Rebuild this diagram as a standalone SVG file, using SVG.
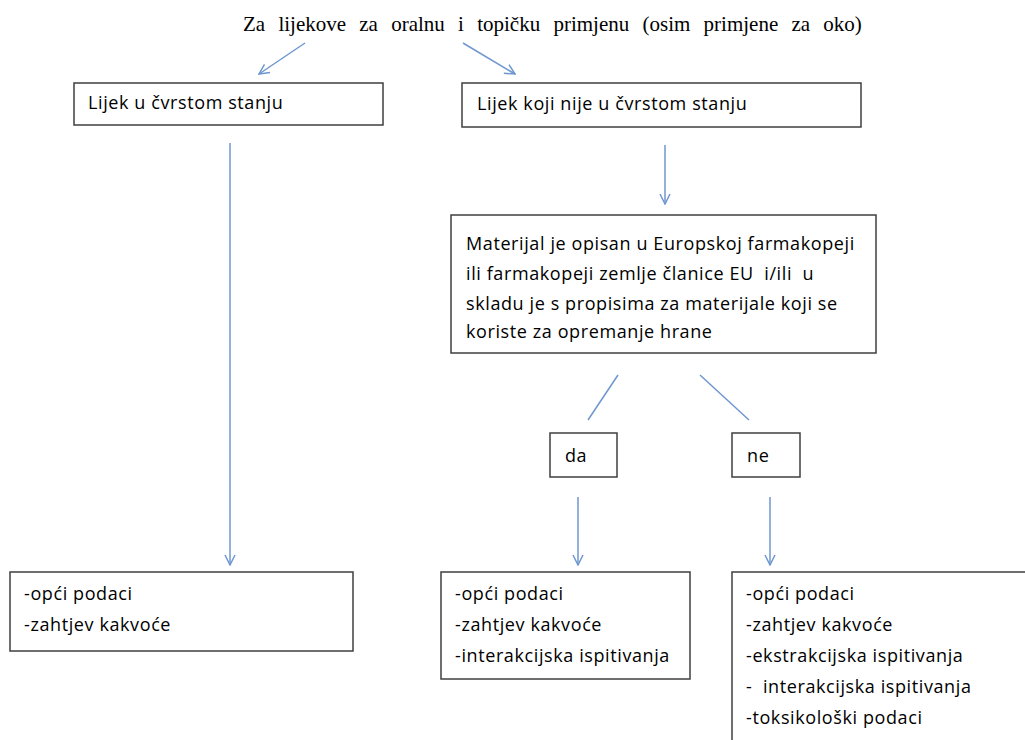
<svg xmlns="http://www.w3.org/2000/svg" width="1025" height="740" viewBox="0 0 1025 740">
<style>
.box{fill:#fff;stroke:#3f3f3f;stroke-width:1.5}
.t{font-family:"Open Sans","Liberation Sans",sans-serif;font-size:18px;letter-spacing:0.6px;fill:#000;white-space:pre}
.title{font-family:"Liberation Serif",serif;font-size:21px;word-spacing:8px;fill:#000}
.c{stroke:#6f97cf;stroke-width:1.5;fill:none}
</style>
<defs>
<marker id="ah" viewBox="0 0 12 12" refX="11" refY="6" markerWidth="12" markerHeight="12" markerUnits="userSpaceOnUse" orient="auto">
<path d="M1,1 L11,6 L1,11" fill="none" stroke="#6f97cf" stroke-width="1.5"/>
</marker>
</defs>
<rect width="1025" height="740" fill="#fff"/>
<text class="title" x="243" y="31">Za lijekove za oralnu i topičku primjenu (osim primjene za oko)</text>
<g id="connectors">
<line class="c" x1="305" y1="43" x2="259" y2="74" marker-end="url(#ah)"/>
<line class="c" x1="463" y1="43" x2="515" y2="74" marker-end="url(#ah)"/>
<line class="c" x1="230" y1="143" x2="230" y2="565" marker-end="url(#ah)"/>
<line class="c" x1="665" y1="145" x2="665" y2="204" marker-end="url(#ah)"/>
<line class="c" x1="618" y1="375" x2="588" y2="420"/>
<line class="c" x1="700" y1="375" x2="749" y2="420"/>
<line class="c" x1="578" y1="497" x2="578" y2="565" marker-end="url(#ah)"/>
<line class="c" x1="770" y1="497" x2="770" y2="565" marker-end="url(#ah)"/>
</g>
<g id="solid">
<rect class="box" x="74" y="83" width="309" height="42"/>
<text class="t" x="88" y="109">Lijek u čvrstom stanju</text>
</g>
<g id="nonsolid">
<rect class="box" x="462" y="83" width="399" height="44"/>
<text class="t" x="477" y="110">Lijek koji nije u čvrstom stanju</text>
</g>
<g id="material">
<rect class="box" x="451" y="215" width="425" height="138"/>
<text class="t" x="466" y="250">Materijal je opisan u Europskoj farmakopeji</text>
<text class="t" x="466" y="280">ili farmakopeji zemlje članice EU  i/ili  u</text>
<text class="t" x="466" y="310">skladu je s propisima za materijale koji se</text>
<text class="t" x="466" y="338">koriste za opremanje hrane</text>
</g>
<g id="da">
<rect class="box" x="550" y="433" width="67" height="44"/>
<text class="t" x="565" y="462">da</text>
</g>
<g id="ne">
<rect class="box" x="732" y="433" width="68" height="44"/>
<text class="t" x="747" y="462">ne</text>
</g>
<g id="res-solid">
<rect class="box" x="10" y="572" width="343" height="79"/>
<text class="t" x="24" y="600">-opći podaci</text>
<text class="t" x="24" y="631">-zahtjev kakvoće</text>
</g>
<g id="res-da">
<rect class="box" x="441" y="572" width="249" height="107"/>
<text class="t" x="455" y="600">-opći podaci</text>
<text class="t" x="455" y="631">-zahtjev kakvoće</text>
<text class="t" x="455" y="662">-interakcijska ispitivanja</text>
</g>
<g id="res-ne">
<rect class="box" x="732" y="572" width="310" height="180"/>
<text class="t" x="746" y="600">-opći podaci</text>
<text class="t" x="746" y="631">-zahtjev kakvoće</text>
<text class="t" x="746" y="662">-ekstrakcijska ispitivanja</text>
<text class="t" x="746" y="693">-  interakcijska ispitivanja</text>
<text class="t" x="746" y="724">-toksikološki podaci</text>
</g>
</svg>
